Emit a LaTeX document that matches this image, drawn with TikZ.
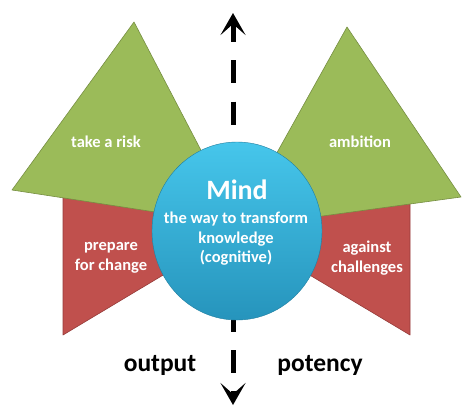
\documentclass[tikz,border=0pt]{standalone}
\usepackage{fontspec}
\setmainfont{Carlito}
\usetikzlibrary{arrows.meta}
\usetikzlibrary{shapes.geometric}
\definecolor{riskgreen}{RGB}{155,187,89}
\definecolor{riskgreenline}{RGB}{118,142,66}
\definecolor{changered}{RGB}{192,80,77}
\definecolor{changeredline}{RGB}{150,60,58}
\definecolor{mindtop}{RGB}{70,198,235}
\definecolor{mindbottom}{RGB}{38,148,188}

\begin{document}
\begin{tikzpicture}[x=1pt, y=-1pt,
			greenpart/.style={fill=riskgreen, draw=riskgreenline, line width=0.6pt, line join=round},
			redpart/.style={fill=changered, draw=changeredline, line width=0.6pt, line join=round},
			innertext/.style={text=white, font=\bfseries\fontsize{16.5}{19.5}\selectfont, align=center},
			axistext/.style={text=black, font=\bfseries\fontsize{25.5}{30}\selectfont},
			axisline/.style={line width=5pt, dash pattern=on 23pt off 18.4pt, dash phase=4pt,
				{Stealth[length=22pt,width=25pt,inset=11pt]}-{Stealth[length=22pt,width=25pt,inset=11pt]}}]
	\useasboundingbox (0,0) rectangle (462,407);
	% red parts below the green ones
	\filldraw[redpart] (63,190) -- (63,335) -- (235,232) -- (235,210) -- cycle;
	\filldraw[redpart] (410,195) -- (410,335) -- (231,228) -- (231,210) -- cycle;
	\filldraw[greenpart] (134,22) -- (12,190) -- (240,225) -- cycle;
	\filldraw[greenpart] (347,27) -- (461,197) -- (235,228) -- cycle;
	\coordinate (top) at (233,13);
	\coordinate (bottom) at (233,405);
	\draw[axisline] (top) -- (bottom);
	\node[ellipse, minimum width=170pt, minimum height=178pt,
			top color=mindtop, bottom color=mindbottom,
			draw=mindbottom!85!black, line width=0.4pt] (mind) at (237,231) {};
	\node[innertext] (risk) at (106,142) {take a risk};
	\node[innertext] (ambition) at (360,142) {ambition};
	\node[innertext] (prepare) at (111,258) {prepare\\for change};
	\node[innertext] (against) at (367,258) {against\\challenges};
	\node[text=white, font=\bfseries\fontsize{28}{30}\selectfont] (mindtitle) at (237,190) {Mind};
	\node[innertext] (mindtext) at (236,239) {the way to transform\\knowledge\\(cognitive)};
	\node[axistext] (output) at (160,365) {output};
	\node[axistext] (potency) at (320,365) {potency};
\end{tikzpicture}
\end{document}
